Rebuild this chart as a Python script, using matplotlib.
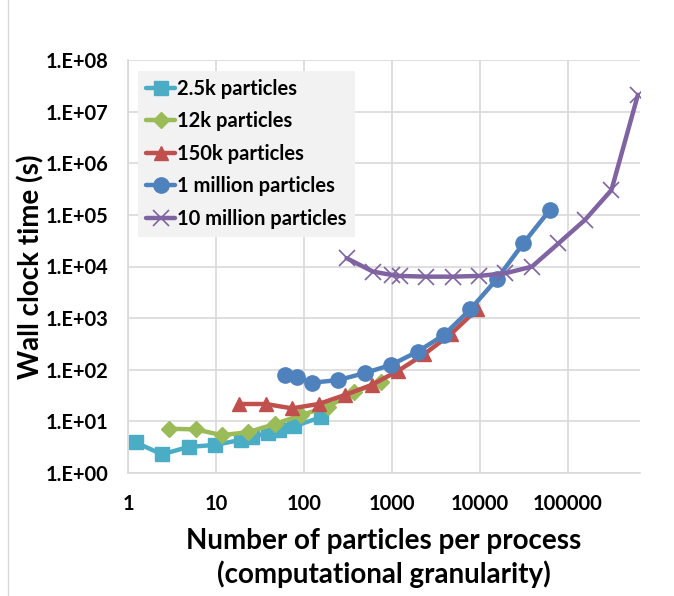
import numpy as np
import matplotlib.pyplot as plt
from matplotlib.lines import Line2D

plt.rcParams['font.family'] = ['Lato', 'DejaVu Sans']
plt.rcParams['font.weight'] = 'bold'

# particles per process vs wall clock time, one series per problem size
x_2500 = [1.22, 2.44, 4.88, 9.77, 19.5, 26, 39, 52, 78, 156]
t_2500 = [3.9, 2.3, 3.2, 3.5, 4.4, 5.0, 6.0, 6.8, 8.1, 12.0]

x_12k = [2.93, 5.86, 11.7, 23.4, 46.9, 93.75, 187.5, 375, 750]
t_12k = [7.2, 7.0, 5.4, 6.2, 8.9, 13.3, 19.3, 37, 59]

x_150k = [18.3, 36.6, 73.2, 146.5, 293, 586, 1172, 2344, 4688, 9375]
t_150k = [21.7, 21.7, 17.9, 21.7, 32.5, 50.7, 95, 202, 493, 1510]

x_1m = [61, 83, 122, 244, 488, 977, 1953, 3906, 7812, 15625, 31250, 62500]
t_1m = [79, 73.5, 56, 63, 86, 124, 224, 472, 1490, 5740, 28300, 125000]

x_10m = [305, 610, 990, 1221, 2441, 4883, 9766, 19531, 39062, 78125,
         156250, 312500, 625000]
t_10m = [14500, 7950, 6870, 6570, 6360, 6360, 6570, 7410, 9950, 28000,
         79800, 302000, 21200000]

series = [
    ("2.5k particles", x_2500, t_2500, '#4bacc6', 's', 10, 1),
    ("12k particles", x_12k, t_12k, '#9bbb59', 'D', 8, 1),
    ("150k particles", x_150k, t_150k, '#c0504d', '^', 10, 1),
    ("1 million particles", x_1m, t_1m, '#4f81bd', 'o', 11, 1),
    ("10 million particles", x_10m, t_10m, '#8064a2', 'x', 11, 1.2),
]

y_ticks = [10.0 ** k for k in range(9)]
y_labels = ["1.E+%02d" % k for k in range(9)]
x_ticks = [1, 10, 100, 1000, 10000, 100000]
x_labels = ["1", "10", "100", "1000", "10000", "100000"]

fig = plt.figure(figsize=(6.74, 5.96), dpi=100)
ax = fig.add_axes([128 / 674, 1 - 473 / 596, 512 / 674, 413 / 596])

for label, xs, ts, color, marker, ms, mew in series:
    ax.plot(xs, ts, color=color, lw=3.2, marker=marker, ms=ms,
            mec=color, mfc=color, mew=mew, label=label,
            solid_joinstyle='round', solid_capstyle='round')

ax.set_xscale('log')
ax.set_yscale('log')
ax.set_xlim(1, 6.6e5)
ax.set_ylim(1, 1e8)
ax.set_yticks(y_ticks)
ax.set_yticklabels(y_labels)
ax.set_xticks(x_ticks)
ax.set_xticklabels(x_labels)
ax.minorticks_off()
ax.tick_params(axis='y', length=0, pad=14, labelsize=14.5)
ax.tick_params(axis='x', length=0, pad=15, labelsize=14.5)

ax.grid(True, color='#d9d9d9', lw=1.2)
ax.set_axisbelow(True)
for side in ['top', 'right']:
    ax.spines[side].set_visible(False)
for side in ['left', 'bottom']:
    ax.spines[side].set_color('#d9d9d9')
    ax.spines[side].set_linewidth(1.2)

ax.set_ylabel("Wall clock time (s)", fontsize=20, fontweight='bold', labelpad=1)
ax.set_xlabel("Number of particles per process\n(computational granularity)",
              fontsize=20, fontweight='bold', labelpad=10, linespacing=1.3)

leg = ax.legend(loc='upper left', bbox_to_anchor=(0.0195, 0.974),
                borderaxespad=0, numpoints=1, fontsize=14.5,
                handlelength=1.45, handletextpad=0.1, labelspacing=0.62,
                borderpad=0.4, fancybox=False, frameon=True)
leg.get_frame().set_facecolor('#f2f2f2')
leg.get_frame().set_edgecolor('none')
leg.get_frame().set_alpha(1)

# faint chart-area border on the left
fig.add_artist(Line2D([8 / 674, 8 / 674], [0, 1], color='#d9d9d9', lw=1))

fig.savefig("out.png", dpi=100)
